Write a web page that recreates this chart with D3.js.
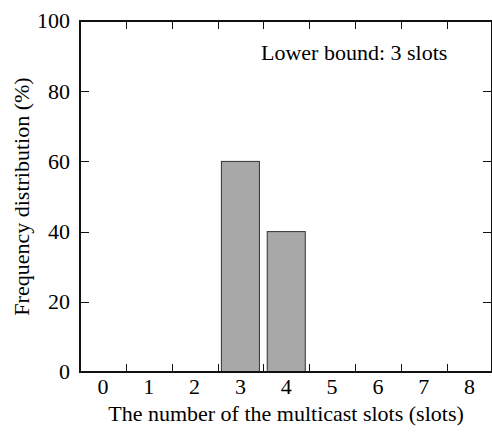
<!DOCTYPE html>
<html>
<head>
<meta charset="utf-8">
<script src="https://cdn.jsdelivr.net/npm/d3@7"></script>
</head>
<body style="margin:0">
<div id="chart"></div>
<script>
// Data
const slots = ["0", "1", "2", "3", "4", "5", "6", "7", "8"];
const frequency = [0, 0, 0, 60, 40, 0, 0, 0, 0];
const yTicks = [0, 20, 40, 60, 80, 100];

const width = 492;
const height = 432;
const margin = { top: 21, right: 0, bottom: 60, left: 80 };
const fontName = "Liberation Serif";
const fontSize = "22px";

const svg = d3.select("#chart")
    .append("svg")
    .attr("width", width)
    .attr("height", height);

// Scales
const x = d3.scaleBand()
    .domain(slots)
    .range([margin.left, 492.5])
    .paddingInner(0.17)
    .paddingOuter(0.085);

const xEdge = d3.scaleLinear()
    .domain([0, slots.length])
    .range([margin.left, 492.5]);

const y = d3.scaleLinear()
    .domain([0, 100])
    .range([height - margin.bottom, margin.top]);

const x0 = margin.left, x1 = width - 1;
const y0 = y(0), y1 = y(100);

// Bars (drawn first so the axis frame sits on top)
svg.selectAll(".bar")
    .data(slots.map((s, i) => ({ slot: s, value: frequency[i] })).filter(d => d.value > 0))
    .enter()
    .append("rect")
    .attr("class", "bar")
    .attr("x", d => x(d.slot))
    .attr("y", d => y(d.value))
    .attr("width", x.bandwidth())
    .attr("height", d => y(0) - y(d.value))
    .attr("fill", "#a8a8a8")
    .attr("stroke", "#333")
    .attr("stroke-width", 1);

// Ticks at the band edges, top and bottom, pointing inward
const edges = d3.range(1, slots.length);
svg.selectAll(".xtick-b")
    .data(edges)
    .enter()
    .append("line")
    .attr("x1", d => Math.round(xEdge(d)) + 0.5)
    .attr("x2", d => Math.round(xEdge(d)) + 0.5)
    .attr("y1", y0)
    .attr("y2", y0 - 8)
    .attr("stroke", "#111");
svg.selectAll(".xtick-t")
    .data(edges)
    .enter()
    .append("line")
    .attr("x1", d => Math.round(xEdge(d)) + 0.5)
    .attr("x2", d => Math.round(xEdge(d)) + 0.5)
    .attr("y1", y1)
    .attr("y2", y1 + 8)
    .attr("stroke", "#111");

// Y ticks, left and right, pointing inward
const innerY = yTicks.filter(t => t > 0 && t < 100);
svg.selectAll(".ytick-l")
    .data(innerY)
    .enter()
    .append("line")
    .attr("x1", x0)
    .attr("x2", x0 + 9)
    .attr("y1", d => Math.round(y(d)) + 0.5)
    .attr("y2", d => Math.round(y(d)) + 0.5)
    .attr("stroke", "#111");
svg.selectAll(".ytick-r")
    .data(innerY)
    .enter()
    .append("line")
    .attr("x1", x1)
    .attr("x2", x1 - 8)
    .attr("y1", d => Math.round(y(d)) + 0.5)
    .attr("y2", d => Math.round(y(d)) + 0.5)
    .attr("stroke", "#111");

// Frame
svg.append("line").attr("x1", x0).attr("x2", width).attr("y1", y1).attr("y2", y1)
    .attr("stroke", "#111").attr("stroke-width", 2);
svg.append("line").attr("x1", x0).attr("x2", width).attr("y1", y0).attr("y2", y0)
    .attr("stroke", "#111").attr("stroke-width", 2);
svg.append("line").attr("x1", x0).attr("x2", x0).attr("y1", y1 - 1).attr("y2", y0 + 1)
    .attr("stroke", "#111").attr("stroke-width", 2);
svg.append("line").attr("x1", x1 + 0.5).attr("x2", x1 + 0.5).attr("y1", y1).attr("y2", y0)
    .attr("stroke", "#111").attr("stroke-width", 1);

// Tick labels
svg.selectAll(".ylabel")
    .data(yTicks)
    .enter()
    .append("text")
    .attr("x", 70)
    .attr("y", d => y(d))
    .attr("dy", "0.34em")
    .attr("text-anchor", "end")
    .style("font-family", `'${fontName}', monospace`)
    .style("font-size", fontSize)
    .text(d => d);

svg.selectAll(".xlabel")
    .data(slots)
    .enter()
    .append("text")
    .attr("x", d => x(d) + x.bandwidth() / 2)
    .attr("y", 394)
    .attr("text-anchor", "middle")
    .style("font-family", `'${fontName}', monospace`)
    .style("font-size", fontSize)
    .text(d => d);

// Axis titles
svg.append("text")
    .attr("x", (x0 + width) / 2)
    .attr("y", 421)
    .attr("text-anchor", "middle")
    .style("font-family", `'${fontName}', monospace`)
    .style("font-size", fontSize)
    .text("The number of the multicast slots (slots)");

svg.append("text")
    .attr("transform", `translate(29, ${(y0 + y1) / 2}) rotate(-90)`)
    .attr("text-anchor", "middle")
    .style("font-family", `'${fontName}', monospace`)
    .style("font-size", fontSize)
    .text("Frequency distribution (%)");

// Annotation
svg.append("text")
    .attr("x", 261)
    .attr("y", 60)
    .style("font-family", `'${fontName}', monospace`)
    .style("font-size", fontSize)
    .text("Lower bound: 3 slots");
</script>
</body>
</html>
